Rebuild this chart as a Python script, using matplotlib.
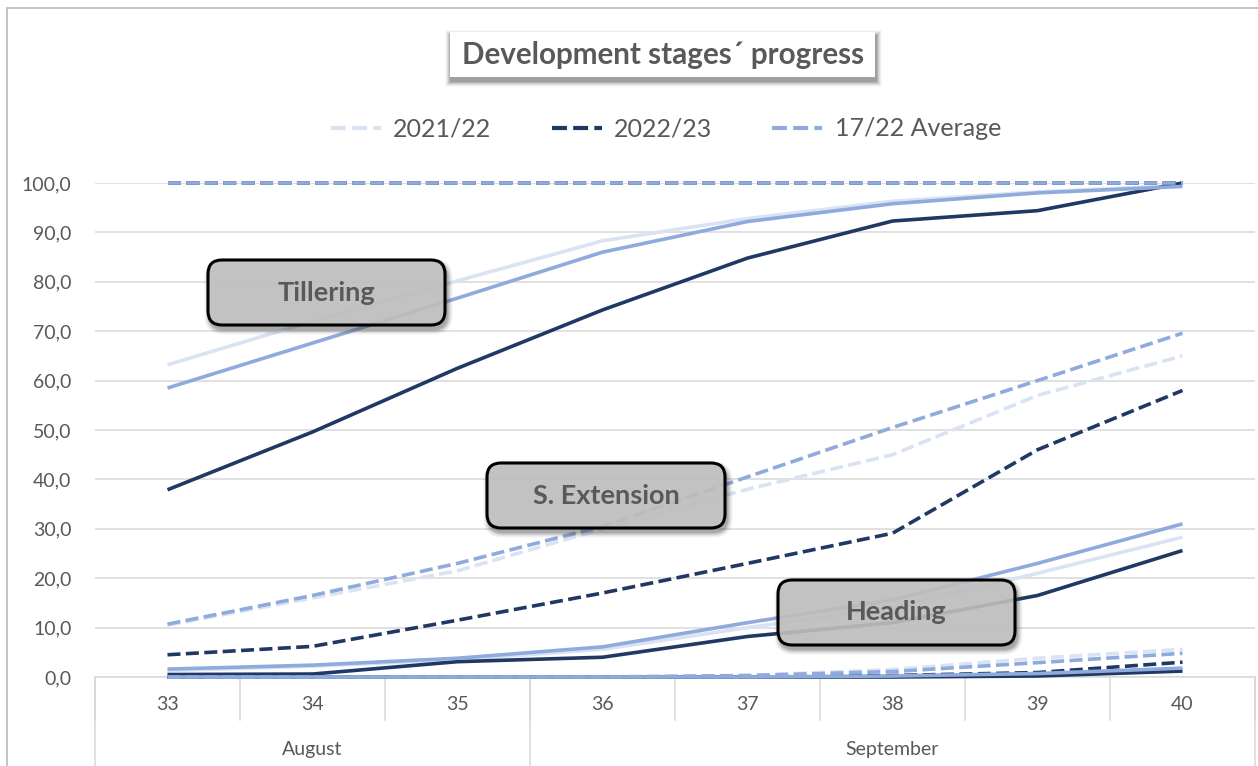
import matplotlib
matplotlib.use("Agg")
import matplotlib.pyplot as plt
from matplotlib.lines import Line2D
from matplotlib.patches import FancyBboxPatch, Rectangle
from matplotlib.ticker import FuncFormatter, MultipleLocator

plt.rcParams['font.family'] = ['Lato', 'DejaVu Sans']

# ---------------- data ----------------
weeks = ['33', '34', '35', '36', '37', '38', '39', '40']
months = ['August', 'September']
month_spans = [3, 5]
seasons = ['2021/22', '2022/23', '17/22 Average']

emerg_21 = [100, 100, 100, 100, 100, 100, 100, 100]
emerg_23 = [100, 100, 100, 100, 100, 100, 100, 100]
emerg_avg = [100, 100, 100, 100, 100, 100, 100, 100]

till_21 = [63.2, 72.0, 80.2, 88.3, 92.8, 96.3, 98.2, 99.5]
till_23 = [37.9, 49.6, 62.5, 74.3, 84.8, 92.3, 94.4, 100.0]
till_avg = [58.5, 67.6, 76.7, 86.0, 92.2, 95.8, 98.0, 99.3]

sext_21 = [10.5, 16.0, 21.5, 30.0, 38.0, 45.0, 57.0, 65.0]
sext_23 = [4.5, 6.2, 11.5, 17.0, 23.0, 29.1, 46.0, 58.0]
sext_avg = [10.7, 16.5, 23.0, 30.5, 40.5, 50.5, 60.0, 69.6]

head_21 = [1.3, 2.2, 3.5, 5.6, 10.0, 14.0, 21.0, 28.3]
head_23 = [0.5, 0.6, 3.1, 4.0, 8.2, 11.0, 16.5, 25.6]
head_avg = [1.6, 2.4, 3.8, 6.1, 11.0, 15.6, 23.0, 31.0]

flow_21 = [0, 0, 0, 0, 0.3, 1.5, 3.8, 5.6]
flow_23 = [0, 0, 0, 0, 0, 0.3, 0.9, 3.0]
flow_avg = [0, 0, 0, 0, 0.3, 1.1, 2.9, 4.8]

mat_21 = [0, 0, 0, 0, 0, 0.2, 0.6, 1.5]
mat_23 = [0, 0, 0, 0, 0, 0, 0.2, 1.2]
mat_avg = [0, 0, 0, 0, 0, 0.2, 0.7, 1.8]

stage_labels = ['Tillering', 'S. Extension', 'Heading']

# ---------------- style ----------------
C21 = '#DAE3F3'
C23 = '#203864'
CAVG = '#8FAADC'
GRID = '#D9D9D9'
TXT = '#595959'
W, H = 1258, 766

fig = plt.figure(figsize=(W / 100, H / 100), dpi=100)
fig.patch.set_facecolor('white')


def fx(px):
    return px / W


def fy(py):
    return 1 - py / H


ax_left, ax_right, ax_top, ax_bot = 95, 1255, 183, 677
ax = fig.add_axes([fx(ax_left), fy(ax_bot), fx(ax_right - ax_left), (ax_bot - ax_top) / H])
ax.set_facecolor('none')

x = list(range(len(weeks)))
LW = 2.6
DASH = (3.6, 1.5)

series = [
    (emerg_21, emerg_23, emerg_avg, True),
    (till_21, till_23, till_avg, False),
    (sext_21, sext_23, sext_avg, True),
    (head_21, head_23, head_avg, False),
    (flow_21, flow_23, flow_avg, True),
    (mat_21, mat_23, mat_avg, False),
]
for s21, s23, savg, dashed in series:
    for vals, col, z in ((s21, C21, 3), (s23, C23, 4), (savg, CAVG, 5)):
        ln, = ax.plot(x, vals, color=col, lw=LW, zorder=z, clip_on=False,
                      solid_capstyle='butt', dash_capstyle='butt')
        if dashed:
            ln.set_dashes(DASH)

ax.set_xlim(-0.5, len(weeks) - 0.5)
ax.set_ylim(0, 100)
ax.yaxis.set_major_locator(MultipleLocator(10))
ax.yaxis.set_major_formatter(FuncFormatter(lambda v, p: f"{v:.1f}".replace('.', ',')))
ax.grid(axis='y', color=GRID, lw=1.1, zorder=0)
ax.set_axisbelow(True)
for sp in ax.spines.values():
    sp.set_visible(False)
ax.tick_params(axis='y', length=0, pad=17, labelsize=14, labelcolor=TXT)
ax.tick_params(axis='x', length=0, labelbottom=False)

# multi-level category axis
trans = ax.get_xaxis_transform()
ah = ax_bot - ax_top
ax.plot([-0.5, len(weeks) - 0.5], [0, 0], transform=trans, color=GRID, lw=1.1, clip_on=False)
for i in range(len(weeks) + 1):
    ax.plot([i - 0.5, i - 0.5], [0, -43 / ah], transform=trans, color=GRID, lw=1.1, clip_on=False)
for i, w in enumerate(weeks):
    ax.text(i, -28 / ah, w, transform=trans, ha='center', va='center', fontsize=14, color=TXT)
start = 0
edges = [0]
for m, n in zip(months, month_spans):
    ax.text(start + (n - 1) / 2, -73 / ah, m, transform=trans, ha='center', va='center',
            fontsize=14, color=TXT)
    start += n
    edges.append(start)
for e in edges:
    ax.plot([e - 0.5, e - 0.5], [0, -100 / ah], transform=trans, color=GRID, lw=1.1, clip_on=False)

# legend
handles = [Line2D([], [], color=c, lw=LW * 1.15, dashes=DASH) for c in (C21, C23, CAVG)]
leg = fig.legend(handles, seasons, loc='center', bbox_to_anchor=(fx(666), fy(129)), ncol=3,
                 frameon=False, fontsize=18, handlelength=2.0, handletextpad=0.5,
                 columnspacing=2.4, labelcolor=TXT)


def blur_shadow(x0, y0, x1, y1, dx, dy, rounding, zorder, strength=0.12):
    """Soft shadow from stacked translucent boxes (pixel coords, y down)."""
    for k in range(6, 0, -1):
        rs = rounding + k
        bs = 'round,pad=0,rounding_size=%f' % (rs / W) if rounding > 0 else 'square,pad=0'
        sp = FancyBboxPatch((fx(x0 + dx - k), fy(y1 + dy + k)), fx(x1 - x0 + 2 * k),
                            (y1 - y0 + 2 * k) / H, boxstyle=bs, mutation_aspect=W / H,
                            transform=fig.transFigure, facecolor='#404040',
                            edgecolor='none', alpha=strength * (1 - k / 7.0) * 0.6,
                            zorder=zorder)
        fig.patches.append(sp)


# title box
blur_shadow(450, 32, 875, 77, 1, 4, 0, 4, strength=0.35)
tb = FancyBboxPatch((fx(450), fy(77)), fx(425), (77 - 32) / H, boxstyle='square,pad=0',
                    transform=fig.transFigure, facecolor='white', edgecolor='none', zorder=5)
fig.patches.append(tb)
fig.text(fx(663), fy(55), 'Development stages\u00b4 progress', ha='center', va='center',
         fontsize=21.3, fontweight='bold', color=TXT, zorder=6)

# stage label boxes
boxes = [(208, 260, 445, 325), (487, 463, 725, 528), (778, 580, 1015, 645)]
for lab, (x0, y0, x1, y1) in zip(stage_labels, boxes):
    blur_shadow(x0, y0, x1, y1, 2, 4, 14, 19, strength=0.3)
    p = FancyBboxPatch((fx(x0), fy(y1)), fx(x1 - x0), (y1 - y0) / H,
                       boxstyle='round,pad=0,rounding_size=%f' % (14 / W),
                       mutation_aspect=W / H,
                       transform=fig.transFigure, facecolor=(0.78, 0.78, 0.78, 0.85),
                       edgecolor='black', lw=2.2, zorder=20)
    fig.patches.append(p)
    fig.text(fx((x0 + x1) / 2), fy((y0 + y1) / 2), lab, ha='center', va='center',
             fontsize=19.5, fontweight='bold', color=TXT, zorder=21)

# outer border
fig.patches.append(Rectangle((fx(7), fy(800)), fx(1300), (800 - 8) / H, transform=fig.transFigure,
                             fill=False, edgecolor='#BFBFBF', lw=1.3, zorder=1))

fig.savefig('out.png', dpi=100)
